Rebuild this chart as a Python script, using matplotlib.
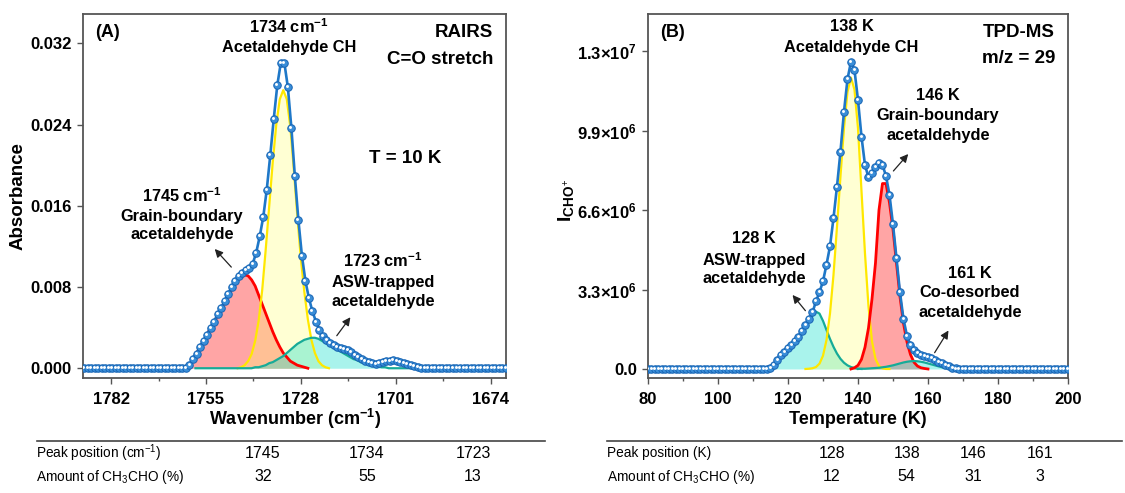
import numpy as np
import matplotlib
matplotlib.use("Agg")
import matplotlib.pyplot as plt
from matplotlib.lines import Line2D
from matplotlib.transforms import offset_copy

plt.rcParams['font.family'] = ['Liberation Sans', 'DejaVu Sans']
plt.rcParams['mathtext.fontset'] = 'custom'
plt.rcParams['mathtext.rm'] = 'Liberation Sans'
plt.rcParams['mathtext.bf'] = 'Liberation Sans:bold'
plt.rcParams['mathtext.it'] = 'Liberation Sans:italic'

# ---------------- (A) RAIRS data ----------------
rairs_x = np.arange(1789.7, 1669.0, -1.0)
rairs_abs = [
    0.0, 0.0, 0.0, 0.0, 0.0, 0.0, 0.0, 0.0, 0.0, 0.0,
    0.0, 0.0, 0.0, 0.0, 0.0, 0.0, 0.0, 0.0, 0.0, 0.0,
    0.0, 0.0, 0.0, 0.0, 0.0, 0.0, 0.0, 0.0, 0.0, 0.0,
    0.0003, 0.0009, 0.0014, 0.0021, 0.0027, 0.0033, 0.0040, 0.0046, 0.0053, 0.0059,
    0.0066, 0.0073, 0.0080, 0.0086, 0.0091, 0.0094, 0.0097, 0.0099, 0.0103, 0.0114,
    0.0130, 0.0149, 0.0176, 0.0210, 0.0246, 0.0279, 0.0301, 0.0301, 0.0277, 0.0237,
    0.0189, 0.0146, 0.0111, 0.0086, 0.0069, 0.0056, 0.0046, 0.0038, 0.0032, 0.0028,
    0.0025, 0.0023, 0.0021, 0.0020, 0.0019, 0.0018, 0.0016, 0.0013, 0.0011, 0.0009,
    0.0007, 0.0006, 0.0005, 0.0004, 0.0005, 0.0006, 0.0007, 0.0007, 0.0008, 0.0007,
    0.0006, 0.0005, 0.0004, 0.0003, 0.0002, 0.0001, 0.0, 0.0, 0.0, 0.0,
    0.0, 0.0, 0.0, 0.0, 0.0, 0.0, 0.0, 0.0, 0.0, 0.0,
    0.0, 0.0, 0.0, 0.0, 0.0, 0.0, 0.0, 0.0, 0.0, 0.0,
    0.0,
]

# fitted components (A)
gb_x = np.arange(1761, 1725, -1)
gb_abs = [0.0, 0.0002, 0.0007, 0.0013, 0.0019, 0.0025, 0.0031, 0.0038, 0.0044, 0.0050,
          0.0057, 0.0063, 0.0070, 0.0076, 0.0082, 0.0087, 0.0090, 0.0092, 0.0091, 0.0087,
          0.0081, 0.0072, 0.0063, 0.0054, 0.0045, 0.0036, 0.0028, 0.0021, 0.0015, 0.0011,
          0.0007, 0.0005, 0.0003, 0.0002, 0.0001, 0.0]
ch_x = np.arange(1746, 1719, -1)
ch_abs = [0.0, 0.0001, 0.0003, 0.0007, 0.0014, 0.0027, 0.0047, 0.0077, 0.0117, 0.0160,
          0.0203, 0.0240, 0.0265, 0.0274, 0.0265, 0.0238, 0.0196, 0.0150, 0.0108, 0.0075,
          0.0048, 0.0028, 0.0015, 0.0007, 0.0003, 0.0001, 0.0]
asw_x = np.arange(1758, 1688, -1)
asw_abs = [0.0, 0.0, 0.0, 0.0, 0.0, 0.0, 0.0, 0.0, 0.0, 0.0,
           0.0, 0.0, 0.0, 0.0, 0.0, 0.0, 0.0, 0.0001, 0.0001, 0.0002,
           0.0003, 0.0005, 0.0006, 0.0008, 0.0010, 0.0012, 0.0015, 0.0018, 0.0021, 0.0024,
           0.0026, 0.0028, 0.0029, 0.0030, 0.0030, 0.0029, 0.0027, 0.0025, 0.0023, 0.0021,
           0.0019, 0.0017, 0.0015, 0.0013, 0.0011, 0.0009, 0.0008, 0.0006, 0.0005, 0.0004,
           0.0003, 0.0002, 0.0002, 0.0001, 0.0001, 0.0, 0.0, 0.0, 0.0, 0.0,
           0.0, 0.0, 0.0, 0.0, 0.0, 0.0, 0.0, 0.0, 0.0, 0.0]

# ---------------- (B) TPD-MS data (units of 1e6) ----------------
tpd_T = np.arange(80, 201, 1)
tpd_signal = [
    0, 0, 0, 0, 0, 0, 0, 0, 0, 0,
    0, 0, 0, 0, 0, 0, 0, 0, 0, 0,
    0, 0, 0, 0, 0, 0, 0, 0, 0, 0,
    0, 0, 0, 0, 0, 0.03, 0.15, 0.36, 0.57, 0.72,
    0.86, 0.98, 1.15, 1.34, 1.59, 1.84, 2.07, 2.35, 2.81, 3.19,
    3.64, 4.33, 5.09, 6.26, 7.57, 9.03, 10.68, 12.03, 12.76, 12.41,
    11.17, 9.65, 8.47, 7.96, 8.13, 8.40, 8.57, 8.47, 8.02, 7.23,
    6.01, 4.60, 3.18, 2.07, 1.38, 0.98, 0.77, 0.66, 0.58, 0.53,
    0.48, 0.44, 0.39, 0.30, 0.23, 0.17, 0.11, 0.06, 0.02, 0,
    0, 0, 0, 0, 0, 0, 0, 0, 0, 0,
    0, 0, 0, 0, 0, 0, 0, 0, 0, 0,
    0, 0, 0, 0, 0, 0, 0, 0, 0, 0,
    0,
]

asw_T = np.arange(115, 142)
asw_sig = [0.0, 0.12, 0.33, 0.52, 0.68, 0.82, 0.95, 1.10, 1.30, 1.52,
           1.76, 2.00, 2.22, 2.38, 2.30, 2.00, 1.62, 1.25, 0.92, 0.64,
           0.42, 0.26, 0.15, 0.08, 0.04, 0.01, 0.0]
ch_T = np.arange(125, 150)
ch_sig = [0.0, 0.01, 0.03, 0.08, 0.22, 0.55, 1.2, 2.3, 3.9, 5.9,
          8.0, 10.0, 11.5, 12.1, 11.6, 10.0, 7.4, 4.8, 2.6, 1.15,
          0.42, 0.12, 0.03, 0.0, 0.0]
gb_T = np.arange(138, 161)
gb_sig = [0.0, 0.05, 0.15, 0.4, 0.9, 1.7, 2.9, 4.4, 6.6, 7.7,
          7.7, 6.9, 5.8, 4.4, 3.0, 1.9, 1.12, 0.6, 0.28, 0.12,
          0.05, 0.02, 0.0]
co_T = np.arange(140, 169)
co_sig = [0.0, 0.01, 0.01, 0.02, 0.03, 0.04, 0.05, 0.07, 0.09, 0.12,
          0.15, 0.19, 0.23, 0.27, 0.30, 0.32, 0.33, 0.32, 0.30, 0.27,
          0.23, 0.19, 0.15, 0.11, 0.07, 0.04, 0.02, 0.01, 0.0]

# ---------------- tables ----------------
rairs_peaks = ['1745', '1734', '1723']
rairs_amount = ['32', '55', '13']
tpd_peaks = ['128', '138', '146', '161']
tpd_amount = ['12', '54', '31', '3']

RED_FILL, RED_LINE = '#ff2a2a', '#ff0000'
YEL_FILL, YEL_LINE = '#ffff70', '#ffe800'
TEAL_FILL, TEAL_LINE = '#1fe0cf', '#16ab98'
BLUE = '#1f78c8'


def component(ax, x, y, fill, line, falpha, lw=1.6):
    ax.fill_between(x, 0, y, color=fill, alpha=falpha, lw=0, zorder=2)
    ax.plot(x, y, color=line, lw=lw, zorder=3)


def data_curve(fig, ax, x, y):
    ax.plot(x, y, color=BLUE, lw=1.9, zorder=5)
    ax.plot(x, y, 'o', ms=5.4, mfc='#3a8ed8', mec='#1764b4', mew=0.7, zorder=6)
    hl = offset_copy(ax.transData, fig=fig, x=-0.7, y=0.7, units='points')
    ax.plot(x, y, 'o', ms=2.1, mfc='white', mec='none', zorder=7, transform=hl)


def style_axes(ax):
    for s in ax.spines.values():
        s.set_color('#555555')
        s.set_linewidth(1.3)
    ax.tick_params(which='both', direction='out', color='#555555', width=1.0)
    ax.tick_params(which='major', length=4, labelsize=12, pad=4)
    ax.tick_params(axis='x', which='major', pad=6)
    ax.tick_params(which='minor', length=2.5)
    for lab in ax.get_xticklabels() + ax.get_yticklabels():
        lab.set_fontweight('bold')


fig = plt.figure(figsize=(11.25, 4.93), dpi=100)
ax1 = fig.add_axes([0.0738, 0.2333, 0.376, 0.7383])
ax2 = fig.add_axes([0.576, 0.2333, 0.3733, 0.7383])

ANN = 11.8

# ---- panel A ----
component(ax1, gb_x, gb_abs, RED_FILL, RED_LINE, 0.42, lw=2)
component(ax1, ch_x, ch_abs, YEL_FILL, YEL_LINE, 0.3)
component(ax1, asw_x, asw_abs, TEAL_FILL, TEAL_LINE, 0.38)
data_curve(fig, ax1, rairs_x, rairs_abs)

ax1.set_xlim(1790, 1669.6)
ax1.set_ylim(-0.00096, 0.0349)
ax1.set_xticks([1782, 1755, 1728, 1701, 1674])
ax1.set_xticks([1768.5, 1741.5, 1714.5, 1687.5], minor=True)
ax1.set_yticks([0, 0.008, 0.016, 0.024, 0.032])
ax1.set_yticklabels(['0.000', '0.008', '0.016', '0.024', '0.032'])
style_axes(ax1)

bold = dict(fontweight='bold', transform=ax1.transAxes, ha='center', va='center')
ax1.text(0.028, 0.948, '(A)', fontsize=13, fontweight='bold', transform=ax1.transAxes, ha='left', va='center')
ax1.text(0.487, 0.966, '1734 cm$^{\\mathbf{-1}}$', fontsize=ANN, **bold)
ax1.text(0.487, 0.907, 'Acetaldehyde CH', fontsize=ANN, **bold)
ax1.text(0.969, 0.948, 'RAIRS', fontsize=13.5, fontweight='bold', transform=ax1.transAxes, ha='right', va='center')
ax1.text(0.969, 0.876, 'C=O stretch', fontsize=13.5, fontweight='bold', transform=ax1.transAxes, ha='right', va='center')
ax1.text(0.761, 0.602, 'T = 10 K', fontsize=13.5, **bold)
ax1.text(0.234, 0.502, '1745 cm$^{\\mathbf{-1}}$', fontsize=ANN, **bold)
ax1.text(0.234, 0.445, 'Grain-boundary', fontsize=ANN, **bold)
ax1.text(0.234, 0.393, 'acetaldehyde', fontsize=ANN, **bold)
ax1.text(0.709, 0.321, '1723 cm$^{\\mathbf{-1}}$', fontsize=ANN, **bold)
ax1.text(0.709, 0.261, 'ASW-trapped', fontsize=ANN, **bold)
ax1.text(0.709, 0.209, 'acetaldehyde', fontsize=ANN, **bold)
arrow = dict(arrowstyle='-|>', color='#222222', lw=0.9, mutation_scale=12)
ax1.annotate('', xy=(0.307, 0.360), xytext=(0.355, 0.299), xycoords='axes fraction', arrowprops=arrow, zorder=8)
ax1.annotate('', xy=(0.636, 0.173), xytext=(0.596, 0.110), xycoords='axes fraction', arrowprops=arrow, zorder=8)

# ---- panel B ----
asw_sig = np.array(asw_sig) * 1e6
ch_sig = np.array(ch_sig) * 1e6
gb_sig = np.array(gb_sig) * 1e6
co_sig = np.array(co_sig) * 1e6
component(ax2, asw_T, asw_sig, TEAL_FILL, TEAL_LINE, 0.38)
component(ax2, ch_T, ch_sig, YEL_FILL, YEL_LINE, 0.3)
component(ax2, gb_T, gb_sig, RED_FILL, RED_LINE, 0.42, lw=2)
component(ax2, co_T, co_sig, TEAL_FILL, TEAL_LINE, 0.38)
data_curve(fig, ax2, tpd_T, np.array(tpd_signal) * 1e6)

ax2.set_xlim(80, 200)
ax2.set_ylim(-0.374e6, 14.74e6)
ax2.set_xticks([80, 100, 120, 140, 160, 180, 200])
ax2.set_xticks([90, 110, 130, 150, 170, 190], minor=True)
ax2.set_yticks([0, 3.3e6, 6.6e6, 9.9e6, 13.2e6])
ax2.set_yticklabels(['0.0', r'$\mathbf{3.3{\times}10^{6}}$', r'$\mathbf{6.6{\times}10^{6}}$',
                     r'$\mathbf{9.9{\times}10^{6}}$', r'$\mathbf{1.3{\times}10^{7}}$'])
style_axes(ax2)

bold2 = dict(fontweight='bold', transform=ax2.transAxes, ha='center', va='center')
ax2.text(0.029, 0.948, '(B)', fontsize=13, fontweight='bold', transform=ax2.transAxes, ha='left', va='center')
ax2.text(0.485, 0.966, '138 K', fontsize=ANN, **bold2)
ax2.text(0.485, 0.907, 'Acetaldehyde CH', fontsize=ANN, **bold2)
ax2.text(0.969, 0.948, 'TPD-MS', fontsize=13.5, fontweight='bold', transform=ax2.transAxes, ha='right', va='center')
ax2.text(0.969, 0.879, 'm/z = 29', fontsize=13.5, fontweight='bold', transform=ax2.transAxes, ha='right', va='center')
ax2.text(0.690, 0.777, '146 K', fontsize=ANN, **bold2)
ax2.text(0.690, 0.720, 'Grain-boundary', fontsize=ANN, **bold2)
ax2.text(0.690, 0.665, 'acetaldehyde', fontsize=ANN, **bold2)
ax2.text(0.252, 0.384, '128 K', fontsize=ANN, **bold2)
ax2.text(0.252, 0.324, 'ASW-trapped', fontsize=ANN, **bold2)
ax2.text(0.252, 0.272, 'acetaldehyde', fontsize=ANN, **bold2)
ax2.text(0.767, 0.288, '161 K', fontsize=ANN, **bold2)
ax2.text(0.767, 0.234, 'Co-desorbed', fontsize=ANN, **bold2)
ax2.text(0.767, 0.179, 'acetaldehyde', fontsize=ANN, **bold2)
ax2.annotate('', xy=(0.624, 0.621), xytext=(0.580, 0.563), xycoords='axes fraction', arrowprops=arrow, zorder=8)
ax2.annotate('', xy=(0.340, 0.234), xytext=(0.379, 0.179), xycoords='axes fraction', arrowprops=arrow, zorder=8)
ax2.annotate('', xy=(0.719, 0.137), xytext=(0.679, 0.063), xycoords='axes fraction', arrowprops=arrow, zorder=8)

# axis labels
fig.text(0.016, 0.602, 'Absorbance', rotation=90, fontsize=13.5, fontweight='bold', ha='center', va='center')
fig.text(0.2622, 0.150, 'Wavenumber (cm$^{\\mathbf{-1}}$)', fontsize=13, fontweight='bold', ha='center', va='center')
fig.text(0.7627, 0.150, 'Temperature (K)', fontsize=13, fontweight='bold', ha='center', va='center')
fig.text(0.503, 0.594, r'$\mathbf{I}_{\mathbf{CHO}^{+}}$', rotation=90, fontsize=14, ha='center', va='center')

# tables under the panels
fig.add_artist(Line2D([0.033, 0.484], [0.1061, 0.1061], color='#444444', lw=1.2))
fig.add_artist(Line2D([0.5396, 0.9973], [0.1061, 0.1061], color='#444444', lw=1.2))
row_y = [0.0811, 0.0331]
fig.text(0.032, row_y[0], 'Peak position (cm$^{-1}$)', fontsize=9.8, va='center')
fig.text(0.032, row_y[1], 'Amount of CH$_3$CHO (%)', fontsize=9.8, va='center')
for cx, p, a in zip([0.2338, 0.3262, 0.4204], rairs_peaks, rairs_amount):
    fig.text(cx, row_y[0], p, fontsize=11.5, ha='center', va='center')
    fig.text(cx, row_y[1], a, fontsize=11.5, ha='center', va='center')
fig.text(0.5393, row_y[0], 'Peak position (K)', fontsize=9.8, va='center')
fig.text(0.5393, row_y[1], 'Amount of CH$_3$CHO (%)', fontsize=9.8, va='center')
for cx, p, a in zip([0.7393, 0.8060, 0.8649, 0.9244], tpd_peaks, tpd_amount):
    fig.text(cx, row_y[0], p, fontsize=11.5, ha='center', va='center')
    fig.text(cx, row_y[1], a, fontsize=11.5, ha='center', va='center')

fig.savefig('out.png', dpi=100)
